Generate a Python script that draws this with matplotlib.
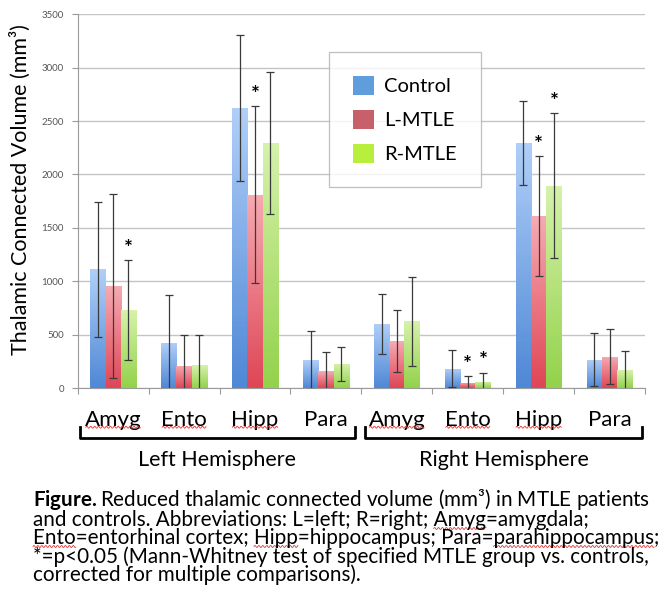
import numpy as np
import matplotlib
matplotlib.use("Agg")
import matplotlib.pyplot as plt
from matplotlib.colors import LinearSegmentedColormap
from matplotlib.patches import Patch
from matplotlib.lines import Line2D
from matplotlib.font_manager import FontProperties

plt.rcParams['font.family'] = ['Lato', 'DejaVu Sans']
plt.rcParams['mathtext.fontset'] = 'custom'
plt.rcParams['mathtext.rm'] = 'Lato'
plt.rcParams['mathtext.bf'] = 'Lato:bold'

# Data (mm^3)
regions = ['Amyg', 'Ento', 'Hipp', 'Para', 'Amyg', 'Ento', 'Hipp', 'Para']
series = ['Control', 'L-MTLE', 'R-MTLE']
control_mean = [1110, 425, 2620, 260, 600, 182, 2295, 265]
control_err = [635, 445, 685, 270, 280, 175, 395, 250]
lmtle_mean = [955, 210, 1810, 155, 440, 50, 1610, 295]
lmtle_err = [860, 290, 830, 180, 290, 60, 560, 255]
rmtle_mean = [730, 215, 2290, 225, 625, 58, 1895, 165]
rmtle_err = [465, 280, 665, 155, 415, 85, 680, 180]
# (region index, series index) pairs marked with *
sig_region = [0, 2, 5, 5, 6, 6]
sig_series = [2, 1, 1, 2, 1, 2]
hemispheres = ['Left Hemisphere', 'Right Hemisphere']
yticks = [0, 500, 1000, 1500, 2000, 2500, 3000, 3500]

caption_lines = [
    r'$\bf{Figure.}$Reduced thalamic connected volume (mm' + '\u00b3) in MTLE patients',
    'and controls. Abbreviations: L=left; R=right; Amyg=amygdala;',
    'Ento=entorhinal cortex; Hipp=hippocampus; Para=parahippocampus;',
    '*=p<0.05 (Mann-Whitney test of specified MTLE group vs. controls,',
    'corrected for multiple comparisons).',
]
# words flagged by the spell checker: (caption line, word)
flagged = [(1, 'Amyg'), (2, 'Ento'), (2, 'Hipp'), (2, 'parahippocampus')]

means = [control_mean, lmtle_mean, rmtle_mean]
errs = [control_err, lmtle_err, rmtle_err]
grad_top = ['#b0cff8', '#f6aab2', '#d6f2aa']
grad_bot = ['#4f88d6', '#df4656', '#93d24c']
legend_colors = ['#5f9ddc', '#c8606c', '#b8ee3c']

W, H = 666, 615
CAP_FS = 14.9
fig = plt.figure(figsize=(W / 100, H / 100), dpi=100)
ax = fig.add_axes([77.7 / W, 1 - 388 / H, (645 - 77.7) / W, (388 - 14.3) / H])

x = np.arange(len(regions))
bw = 0.215
for i in range(3):
    xs = x + (i - 1) * bw
    bars = ax.bar(xs, means[i], width=bw, color='none', edgecolor='none', zorder=2)
    cmap = LinearSegmentedColormap.from_list('g%d' % i, [grad_bot[i], grad_top[i]])
    grad = np.linspace(0, 1, 64).reshape(-1, 1)
    for b in bars:
        x0, y0 = b.get_x(), b.get_y()
        im = ax.imshow(grad, cmap=cmap, origin='lower', aspect='auto',
                       extent=[x0, x0 + b.get_width(), y0, y0 + b.get_height()], zorder=2)
        im.set_clip_path(b)
    ax.errorbar(xs, means[i], yerr=errs[i], fmt='none', ecolor='#3a3a3a',
                elinewidth=0.9, capsize=2.6, capthick=0.9, zorder=3)

for r, s in zip(sig_region, sig_series):
    xp = x[r] + (s - 1) * bw
    top = means[s][r] + errs[s][r]
    ax.annotate('*', (xp, top), xytext=(0, 1), textcoords='offset points',
                ha='center', va='bottom', fontsize=15, fontweight='bold', zorder=4)

ax.set_xlim(-0.5, len(regions) - 0.5)
ax.set_ylim(0, 3500)
ax.set_yticks(yticks)
ax.yaxis.grid(True, color='#c4c4c4', linewidth=1.0)
ax.set_axisbelow(True)
for sp in ['top', 'right']:
    ax.spines[sp].set_visible(False)
for sp in ['left', 'bottom']:
    ax.spines[sp].set_color('#9a9a9a')
ax.tick_params(axis='y', length=4, color='#9a9a9a', labelsize=7, labelcolor='#555555', pad=6)
ax.set_xticks(np.arange(len(regions) + 1) - 0.5)
ax.set_xticklabels([])
ax.set_xticks(x, minor=True)
ax.set_xticklabels(regions, minor=True, fontsize=16)
ax.tick_params(axis='x', which='major', length=4, color='#9a9a9a')
ax.tick_params(axis='x', which='minor', length=0, pad=16)

handles = [Patch(facecolor=c, edgecolor='none') for c in legend_colors]
leg = ax.legend(handles, series, loc='upper left', bbox_to_anchor=(0.443, 0.9),
                borderaxespad=0, fontsize=14.5, frameon=True, fancybox=False,
                edgecolor='#b0b0b0', handlelength=1.05, handleheight=1.05,
                labelspacing=0.74, borderpad=1.2, handletextpad=0.5)
leg.get_frame().set_linewidth(0.9)

fig.text(20 / W, 1 - 190 / H, 'Thalamic Connected Volume (mm\u00b3)', rotation=90,
         ha='center', va='center', fontsize=15.5)

# hemisphere brackets
for (xa, xb), name in zip([(80, 355), (365, 642)], hemispheres):
    fig.add_artist(Line2D([xa / W, xa / W, xb / W, xb / W],
                          [1 - 427 / H, 1 - 438 / H, 1 - 438 / H, 1 - 427 / H],
                          color='black', linewidth=2.0, transform=fig.transFigure))
    fig.text((xa + xb) / 2 / W, 1 - 460 / H, name, ha='center', va='center', fontsize=15.5)

# caption as one block, 18 px between baselines
fig.canvas.draw()
renderer = fig.canvas.get_renderer()
fp = FontProperties(family=['Lato', 'DejaVu Sans'], size=CAP_FS)
lp_w, lp_h, lp_d = renderer.get_text_width_height_descent('lp', fp, ismath=False)
pitch = 18.0
cap = fig.text(33 / W, 1 - 487 / H, '\n'.join(caption_lines), fontsize=CAP_FS,
               va='top', ha='left', linespacing=(pitch - lp_d) / (lp_h - lp_d))


def squiggle(xa, xb, yb):
    xx = np.linspace(xa, xb, max(int(xb - xa) * 2, 10))
    yy = yb + 1.0 * np.sin((xx - xa) * 1.6)
    fig.add_artist(Line2D(xx / W, yy / H, color='#e03535', linewidth=0.6,
                          transform=fig.transFigure))


# red spell-check squiggles
fig.canvas.draw()
for lab in ax.get_xticklabels(minor=True):
    if lab.get_text() == 'Para':
        continue
    b = lab.get_window_extent()
    squiggle(b.x0 + 1, b.x1 - 1, b.y0 + 3)

# baseline of each caption line, from the text layout
_, info, _ = cap._get_layout(renderer)
px, py = cap.get_transform().transform(cap.get_unitless_position())
for li, word in flagged:
    s = caption_lines[li]
    i0 = s.index(word)
    w0 = renderer.get_text_width_height_descent(s[:i0], fp, ismath=False)[0] if i0 else 0
    w1 = renderer.get_text_width_height_descent(s[:i0 + len(word)], fp, ismath=False)[0]
    lx, ly = info[li][2], info[li][3]
    squiggle(px + lx + w0, px + lx + w1, py + ly - 2.5)

fig.savefig('out.png', dpi=100)
